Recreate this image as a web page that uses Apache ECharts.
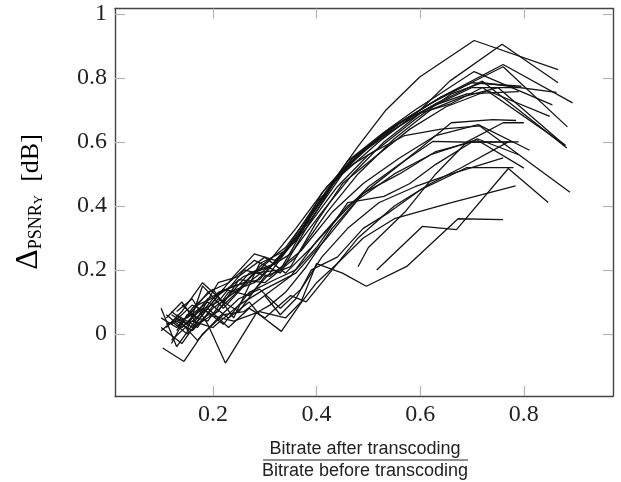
<!DOCTYPE html>
<html><head><meta charset="utf-8">
<script src="https://cdn.jsdelivr.net/npm/echarts@6/dist/echarts.min.js"></script>
<style>html,body{margin:0;padding:0;background:#fff}#c{width:621px;height:482px}</style>
</head><body><div id="c"></div>
<script>
const xTicks=[0.2,0.4,0.6,0.8];
const yTicks=[0,0.2,0.4,0.6,0.8,1];
const s01=[[0.10,0.05],[0.13,0.02],[0.17,0.09],[0.21,0.12],[0.26,0.18],[0.31,0.21],[0.36,0.30],[0.42,0.45],[0.48,0.586],[0.534,0.70],[0.599,0.803],[0.704,0.917],[0.866,0.826]];
const s02=[[0.12,-0.03],[0.15,0.06],[0.19,0.04],[0.23,0.13],[0.28,0.16],[0.33,0.24],[0.39,0.36],[0.45,0.50],[0.52,0.60],[0.60,0.70],[0.657,0.79],[0.758,0.905],[0.866,0.785]];
const s03=[[0.11,0.02],[0.14,0.07],[0.18,0.16],[0.22,0.10],[0.27,0.19],[0.32,0.22],[0.38,0.33],[0.44,0.49],[0.50,0.59],[0.57,0.67],[0.64,0.74],[0.76,0.842],[0.894,0.722]];
const s04=[[0.13,0.04],[0.16,0.01],[0.20,0.08],[0.25,0.14],[0.29,0.21],[0.34,0.27],[0.40,0.40],[0.46,0.54],[0.53,0.63],[0.59,0.70],[0.704,0.82],[0.855,0.716]];
const s05=[[0.12,0.06],[0.15,0.03],[0.19,0.11],[0.24,0.15],[0.29,0.17],[0.35,0.28],[0.41,0.42],[0.47,0.55],[0.54,0.64],[0.62,0.72],[0.68,0.77],[0.76,0.835],[0.884,0.647]];
const s06=[[0.10,0.02],[0.14,-0.03],[0.18,0.06],[0.22,0.14],[0.27,0.12],[0.31,0.19],[0.37,0.32],[0.43,0.47],[0.49,0.57],[0.56,0.65],[0.63,0.72],[0.72,0.79],[0.883,0.581]];
const s07=[[0.11,0.05],[0.14,0.10],[0.17,0.03],[0.21,0.07],[0.25,0.17],[0.30,0.16],[0.36,0.24],[0.42,0.38],[0.48,0.50],[0.55,0.61],[0.62,0.70],[0.68,0.74],[0.75,0.77],[0.880,0.588]];
const s08=[[0.12,0.03],[0.16,0.09],[0.20,0.06],[0.24,0.12],[0.28,0.19],[0.33,0.20],[0.39,0.37],[0.45,0.51],[0.52,0.61],[0.58,0.68],[0.64,0.74],[0.70,0.785],[0.795,0.774]];
const s09=[[0.13,0.01],[0.16,0.08],[0.20,0.14],[0.24,0.05],[0.29,0.22],[0.34,0.26],[0.40,0.41],[0.46,0.52],[0.52,0.58],[0.59,0.67],[0.66,0.75],[0.72,0.785],[0.863,0.755]];
const s10=[[0.14,0.02],[0.17,0.07],[0.21,0.10],[0.26,0.20],[0.31,0.18],[0.37,0.26],[0.43,0.38],[0.49,0.47],[0.56,0.55],[0.63,0.62],[0.712,0.654],[0.811,0.574]];
const s11=[[0.12,-0.02],[0.16,0.04],[0.20,0.02],[0.25,0.09],[0.30,0.14],[0.36,0.19],[0.42,0.30],[0.48,0.42],[0.55,0.50],[0.62,0.56],[0.709,0.607],[0.80,0.518]];
const s12=[[0.11,0.03],[0.15,0.05],[0.19,0.13],[0.23,0.16],[0.28,0.23],[0.33,0.19],[0.38,0.33],[0.44,0.46],[0.50,0.56],[0.57,0.62],[0.64,0.64],[0.715,0.65],[0.889,0.443]];
const s13=[[0.103,-0.044],[0.144,-0.086],[0.18,0.00],[0.22,0.06],[0.26,0.07],[0.30,0.12],[0.35,0.18],[0.40,0.29],[0.46,0.40],[0.53,0.49],[0.60,0.58],[0.66,0.66],[0.74,0.67],[0.785,0.667]];
const s14=[[0.13,0.07],[0.16,0.11],[0.19,0.03],[0.224,-0.091],[0.284,0.066],[0.31,0.09],[0.34,0.13],[0.38,0.21],[0.43,0.33],[0.49,0.44],[0.56,0.50],[0.63,0.57],[0.70,0.60],[0.78,0.60]];
const s15=[[0.15,0.05],[0.19,0.10],[0.23,0.05],[0.27,0.10],[0.29,0.06],[0.332,0.008],[0.37,0.097],[0.40,0.16],[0.44,0.22],[0.49,0.30],[0.55,0.36],[0.66,0.41],[0.784,0.463]];
const s16=[[0.12,0.04],[0.15,0.00],[0.19,0.06],[0.24,0.04],[0.29,0.07],[0.34,0.05],[0.37,0.10],[0.40,0.22],[0.45,0.19],[0.496,0.149],[0.574,0.211],[0.673,0.36],[0.76,0.357]];
const s17=[[0.516,0.20],[0.604,0.336],[0.67,0.326],[0.77,0.517],[0.847,0.411]];
const s18=[[0.48,0.21],[0.50,0.27],[0.57,0.38],[0.63,0.50],[0.69,0.60],[0.76,0.66],[0.80,0.66]];
const s19=[[0.10,0.08],[0.13,-0.04],[0.17,0.05],[0.21,0.13],[0.26,0.16],[0.31,0.23],[0.36,0.33],[0.42,0.46],[0.48,0.56],[0.55,0.65],[0.62,0.71],[0.69,0.75],[0.79,0.757]];
const s20=[[0.14,0.09],[0.17,0.05],[0.21,0.16],[0.25,0.18],[0.30,0.24],[0.34,0.19],[0.39,0.27],[0.44,0.36],[0.50,0.46],[0.56,0.53],[0.625,0.602],[0.696,0.599],[0.79,0.60]];
const s21=[[0.11,0.06],[0.14,0.02],[0.18,0.08],[0.22,0.03],[0.27,0.13],[0.32,0.17],[0.36,0.20],[0.40,0.27],[0.46,0.41],[0.53,0.43],[0.58,0.47],[0.63,0.53],[0.71,0.61],[0.79,0.56]];
const s22=[[0.15,0.01],[0.18,0.15],[0.22,0.08],[0.26,0.15],[0.30,0.20],[0.35,0.25],[0.41,0.38],[0.47,0.50],[0.53,0.60],[0.60,0.69],[0.66,0.72],[0.72,0.77],[0.88,0.59]];
const s23=[[0.13,0.06],[0.17,0.02],[0.21,0.11],[0.25,0.07],[0.30,0.18],[0.35,0.21],[0.40,0.35],[0.45,0.47],[0.51,0.55],[0.58,0.64],[0.65,0.71],[0.73,0.76],[0.85,0.68]];
const s24=[[0.16,0.04],[0.19,0.08],[0.23,0.02],[0.27,0.08],[0.30,0.05],[0.35,0.12],[0.38,0.10],[0.42,0.18],[0.48,0.30],[0.55,0.40],[0.62,0.47],[0.68,0.52],[0.77,0.60]];
const s25=[[0.10,0.01],[0.13,0.05],[0.17,-0.02],[0.21,0.05],[0.25,0.11],[0.29,0.14],[0.33,0.08],[0.37,0.14],[0.41,0.24],[0.46,0.33],[0.52,0.41],[0.59,0.46],[0.66,0.50],[0.76,0.55]];
const s26=[[0.12,0.07],[0.16,0.02],[0.20,0.10],[0.24,0.18],[0.28,0.25],[0.32,0.23],[0.36,0.29],[0.41,0.44],[0.47,0.55],[0.54,0.63],[0.61,0.70],[0.70,0.77],[0.79,0.77]];
const s27=[[0.30,0.12],[0.33,0.06],[0.36,0.11],[0.39,0.20],[0.44,0.24],[0.49,0.33],[0.54,0.38],[0.60,0.45],[0.69,0.52],[0.78,0.52]];
const allSeries=[s01,s02,s03,s04,s05,s06,s07,s08,s09,s10,s11,s12,s13,s14,s15,s16,s17,s18,s19,s20,s21,s22,s23,s24,s25,s26,s27];

const serif='"Liberation Serif","DejaVu Serif",serif';
const sans='"Liberation Sans","DejaVu Sans",sans-serif';
const fmt=v=>(v===0?'0':(Math.abs(v-1)<1e-9?'1':v.toFixed(1)));
const tickStyle={show:true,inside:true,length:10,lineStyle:{color:'#b4b4b4',width:1.2}};
const lineStyle={show:true,onZero:false,lineStyle:{color:'#444',width:1.4}};
const xBase={type:'value',min:0.011,max:0.972,splitLine:{show:false},axisLine:lineStyle};
const yBase={type:'value',min:-0.194,max:1.017,splitLine:{show:false},axisLine:lineStyle};

const chart=echarts.init(document.getElementById('c'),null,{renderer:'canvas'});
chart.setOption({
  animation:false,
  grid:{left:115,right:8,top:8.5,bottom:86,containLabel:false},
  xAxis:[
    Object.assign({},xBase,{position:'bottom',axisTick:Object.assign({customValues:xTicks},tickStyle),
      axisLabel:{customValues:xTicks,formatter:fmt,fontFamily:serif,fontSize:24,color:'#222',margin:7}}),
    Object.assign({},xBase,{position:'top',axisTick:Object.assign({customValues:xTicks},tickStyle),axisLabel:{show:false}})
  ],
  yAxis:[
    Object.assign({},yBase,{position:'left',axisTick:Object.assign({customValues:yTicks},tickStyle),
      axisLabel:{customValues:yTicks,formatter:fmt,fontFamily:serif,fontSize:24,color:'#222',margin:8}}),
    Object.assign({},yBase,{position:'right',axisTick:Object.assign({customValues:yTicks},tickStyle),axisLabel:{show:false}})
  ],
  series:allSeries.map(d=>({type:'line',data:d,showSymbol:false,symbol:'none',
    lineStyle:{color:'#151515',width:1.3},silent:true})),
  graphic:[
    {type:'text',x:365,y:449,style:{text:'Bitrate after transcoding',font:'18px '+sans,fill:'#222',textAlign:'center',textVerticalAlign:'middle'}},
    {type:'line',shape:{x1:263,y1:460,x2:468,y2:460},style:{stroke:'#222',lineWidth:1.2}},
    {type:'text',x:365,y:471,style:{text:'Bitrate before transcoding',font:'18px '+sans,fill:'#222',textAlign:'center',textVerticalAlign:'middle'}},
    {type:'text',x:29,y:202,rotation:Math.PI/2,
      style:{text:'{a|Δ}{b|PSNR}{c|Y}{d|  [dB]}',textAlign:'center',textVerticalAlign:'middle',
        rich:{a:{fontFamily:serif,fontSize:32,color:'#222',lineHeight:32,verticalAlign:'bottom'},
              d:{fontFamily:serif,fontSize:26,color:'#222',lineHeight:32,verticalAlign:'bottom',padding:[0,0,1,0]},
              b:{fontFamily:serif,fontSize:18,color:'#222',lineHeight:32,verticalAlign:'bottom',padding:[9,0,0,0]},
              c:{fontFamily:serif,fontSize:13,color:'#222',lineHeight:32,verticalAlign:'bottom',padding:[12,0,0,0]}}}}
  ]
});
</script></body></html>
